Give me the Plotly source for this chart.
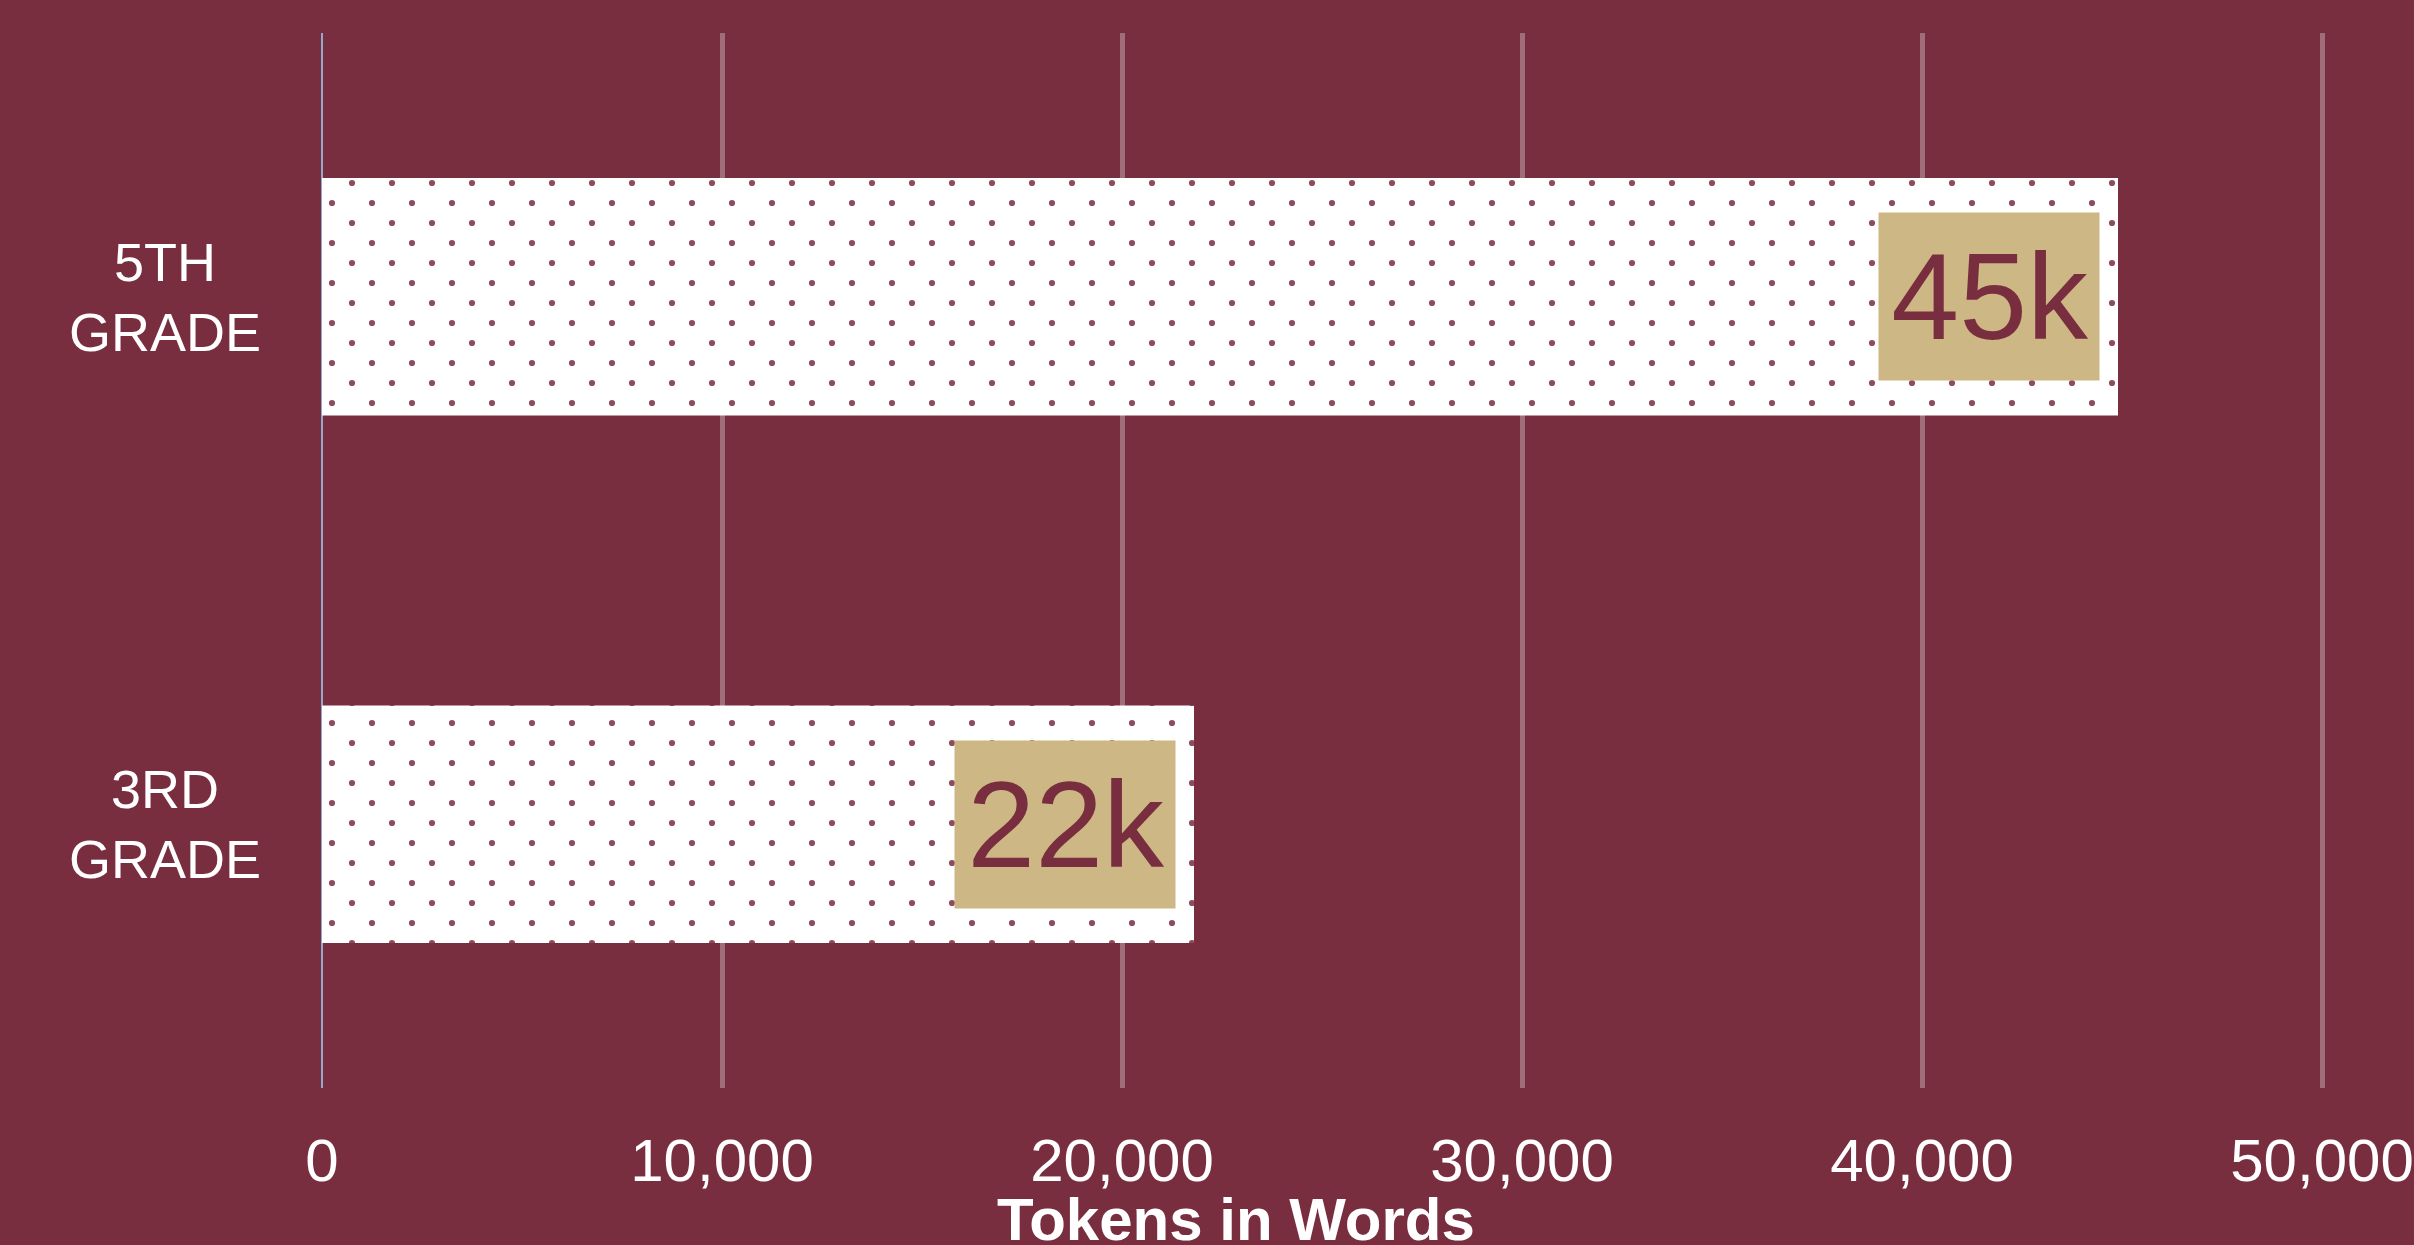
import plotly.graph_objects as go

# Data
categories = ["3RD GRADE", "5TH GRADE"]
category_labels = ["3RD<br>GRADE", "5TH<br>GRADE"]
tokens = [21800, 44900]
value_labels = ["22k", "45k"]
x_tickvals = [0, 10000, 20000, 30000, 40000, 50000]

BG = "#792E40"
GOLD = "#CDB785"
FONT = "Liberation Sans, Arial, sans-serif"

W, H = 2414, 1245
ML, MR, MT, MB = 322, 0, 33, 157
PW = W - ML - MR
PH = H - MT - MB
X_MAX = 50000 * PW / 2000.0  # keeps 50,000 at the same spot as the reference

dot_r = 3.1
def circle(cx, cy, r):
    return (f"M{cx - r},{cy}a{r},{r} 0 1,0 {2*r},0a{r},{r} 0 1,0 {-2*r},0Z")
dot_path = circle(10, 10, dot_r) + " " + circle(30, 30, dot_r)

fig = go.Figure()
fig.add_trace(go.Bar(
    x=tokens,
    y=categories,
    orientation="h",
    width=0.45,
    marker=dict(
        color="white",
        line=dict(width=0),
        pattern=dict(path=dot_path, size=40, fgcolor=BG, fgopacity=0.85,
                     bgcolor="white", solidity=0.5),
    ),
    hoverinfo="skip",
))

annotations = []
for cat, val, lab in zip(categories, tokens, value_labels):
    annotations.append(dict(
        x=val, y=cat, xref="x", yref="y",
        text=lab, showarrow=False,
        xanchor="right", yanchor="middle", xshift=-18,
        font=dict(family=FONT, size=122, color=BG),
        bgcolor=GOLD, borderpad=10, width=200, height=147, align="right",
    ))

for cat, lab in zip(categories, category_labels):
    annotations.append(dict(
        x=(165 - ML) / PW, y=cat, xref="paper", yref="y",
        text=lab, showarrow=False, align="center",
        xanchor="center", yanchor="middle",
        font=dict(family=FONT, size=54, color="white"),
    ))

annotations.append(dict(
    x=(1236 - ML) / PW, y=-(1219 - (MT + PH)) / PH, xref="paper", yref="paper",
    text="<b>Tokens in Words</b>", showarrow=False,
    xanchor="center", yanchor="middle",
    font=dict(family=FONT, size=60, color="white"),
))

fig.update_layout(
    width=W, height=H,
    margin=dict(l=ML, r=MR, t=MT, b=MB, autoexpand=False),
    paper_bgcolor=BG, plot_bgcolor=BG,
    showlegend=False,
    font=dict(family=FONT, color="white"),
    annotations=annotations,
    xaxis=dict(
        range=[0, X_MAX],
        tickvals=x_tickvals,
        tickformat=",",
        showgrid=True, gridcolor="rgba(255,255,255,0.3)", gridwidth=5,
        zeroline=True, zerolinecolor="#93A9CC", zerolinewidth=2,
        showline=False, ticks="",
        tickfont=dict(family=FONT, size=60, color="white"),
        ticklabelstandoff=32,
        automargin=False,
    ),
    yaxis=dict(
        range=[-0.5, 1.5],
        showticklabels=False, showgrid=False, zeroline=False, ticks="",
        automargin=False,
    ),
)

fig.write_html(
    "out.html",
    config={"displayModeBar": False},
    post_script="document.body.style.margin='0';document.body.style.overflow='hidden';",
)
